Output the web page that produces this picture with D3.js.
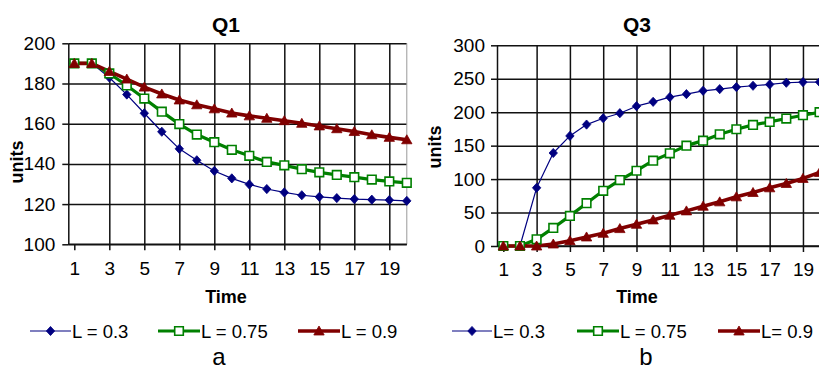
<!DOCTYPE html>
<html>
<head>
<meta charset="utf-8">
<script src="https://cdn.jsdelivr.net/npm/d3@7"></script>
<style>
  html, body { margin: 0; padding: 0; background: #fff; }
  svg { display: block; }
  text { font-family: "Liberation Sans", Arial, sans-serif; fill: #000; }
</style>
</head>
<body>
<svg id="chart" width="819" height="369"></svg>
<script>
// Time steps
const times = d3.range(1, 21);

// Q1 panel series
const q1L03  = [190, 190, 183, 174.5, 165.2, 156, 147.5, 141.8, 136.5, 132.8, 129.8, 127.5, 125.8, 124.4, 123.6, 123, 122.5, 122.2, 122, 121.6];
const q1L075 = [190, 190, 185, 179, 172.5, 166, 159.8, 154.6, 150.8, 147, 144, 141, 139.3, 137.4, 135.8, 134.5, 133.4, 132.2, 131.3, 130.6];
const q1L09  = [190, 190, 186, 182.2, 178.2, 174.8, 171.8, 169.4, 167.4, 165.3, 163.9, 162.7, 161.5, 160.2, 158.9, 157.5, 156.1, 154.5, 153.2, 152];

// Q3 panel series
const q3L03  = [0, 0, 87, 139, 164.5, 181.5, 191, 198.5, 209, 215.5, 222.5, 227, 232, 234.5, 237.5, 239.5, 241.5, 244, 245, 245];
const q3L075 = [0, 0, 10, 27, 45, 64, 82.5, 98.5, 112.5, 127.5, 138.5, 150, 157.5, 167, 174.5, 181, 185.5, 190.5, 195.5, 200];
const q3L09  = [0, 0, 0, 3, 8, 13.5, 19, 26, 32.5, 39, 46, 52.5, 59.5, 66, 73.5, 80, 87, 93.5, 101, 110];

// Axis ticks and labels
const xTickValues = [1, 3, 5, 7, 9, 11, 13, 15, 17, 19];
const q1YTicks = [100, 120, 140, 160, 180, 200];
const q3YTicks = [0, 50, 100, 150, 200, 250, 300];
const seriesNames = ["L = 0.3", "L = 0.75", "L = 0.9"];
const q3SeriesNames = ["L= 0.3", "L = 0.75", "L= 0.9"];

const svg = d3.select("#chart");

const styles = [
  { color: "#000080", width: 1.2, marker: "diamond" },
  { color: "#008000", width: 3.2, marker: "square" },
  { color: "#800000", width: 3.6, marker: "triangle" }
];

function markerPath(kind) {
  if (kind === "diamond") return "M0,-4.6L4.2,0L0,4.6L-4.2,0Z";
  if (kind === "square") return "M-4.3,-4.3H4.3V4.3H-4.3Z";
  return "M0,-5L5.2,4L-5.2,4Z";
}

function drawMarker(g, kind, color, x, y) {
  g.append("path")
    .attr("d", markerPath(kind))
    .attr("transform", `translate(${x},${y})`)
    .attr("fill", kind === "square" ? "#fff" : color)
    .attr("stroke", color)
    .attr("stroke-width", kind === "square" ? 1.6 : 0.8);
}

function panel(opt) {
  const g = svg.append("g");
  const x = d3.scaleLinear().domain(opt.xDomain).range([opt.left, opt.right]);
  const y = d3.scaleLinear().domain(opt.yDomain).range([opt.bottom, opt.top]);

  // horizontal gridlines
  g.append("g")
    .attr("transform", `translate(${opt.left},0)`)
    .call(d3.axisLeft(y).tickValues(opt.yTicks).tickSize(-(opt.right - opt.left)).tickFormat(""))
    .call(a => a.select(".domain").remove())
    .call(a => a.selectAll("line").attr("stroke", "#111").attr("stroke-width", 1.5));

  // vertical gridlines
  g.append("g")
    .attr("transform", `translate(0,${opt.bottom})`)
    .call(d3.axisBottom(x).tickValues(xTickValues.filter(v => v > 1)).tickSize(-(opt.bottom - opt.top)).tickFormat(""))
    .call(a => a.select(".domain").remove())
    .call(a => a.selectAll("line").attr("stroke", "#111").attr("stroke-width", 1.5));

  // right border
  g.append("line")
    .attr("x1", opt.right).attr("x2", opt.right)
    .attr("y1", opt.top).attr("y2", opt.bottom)
    .attr("stroke", "#999").attr("stroke-width", 1);

  // y axis
  g.append("g")
    .attr("transform", `translate(${opt.left},0)`)
    .call(d3.axisLeft(y).tickValues(opt.yTicks).tickSize(6).tickSizeOuter(0).tickPadding(opt.yPad))
    .call(a => a.select(".domain").attr("stroke", "#111").attr("stroke-width", 1.5))
    .call(a => a.selectAll("line").attr("stroke", "#111").attr("stroke-width", 1.5))
    .call(a => a.selectAll("text").attr("font-size", 19).attr("font-family", "Liberation Sans, Arial, sans-serif").attr("fill", "#1a1a1a"));

  // x axis
  g.append("g")
    .attr("transform", `translate(0,${opt.bottom})`)
    .call(d3.axisBottom(x).tickValues(xTickValues).tickSize(6).tickSizeOuter(0).tickPadding(11))
    .call(a => a.select(".domain").attr("stroke", "#111").attr("stroke-width", 1.5)
      .attr("d", `M${opt.left},0H${opt.right}`))
    .call(a => a.selectAll("line").attr("stroke", "#111").attr("stroke-width", 1.5))
    .call(a => a.selectAll("text").attr("font-size", 19).attr("font-family", "Liberation Sans, Arial, sans-serif").attr("fill", "#1a1a1a"));

  // series
  const line = d3.line().x((d, i) => x(times[i])).y(d => y(d));
  opt.series.forEach((vals, k) => {
    const s = styles[k];
    g.append("path")
      .attr("d", line(vals))
      .attr("fill", "none")
      .attr("stroke", s.color)
      .attr("stroke-width", s.width)
      .attr("stroke-linejoin", "round");
  });
  opt.series.forEach((vals, k) => {
    const s = styles[k];
    const mg = g.append("g");
    vals.forEach((v, i) => drawMarker(mg, s.marker, s.color, x(times[i]), y(v)));
  });

  // title
  g.append("text")
    .attr("x", opt.titleX).attr("y", 32)
    .attr("text-anchor", "middle")
    .attr("font-size", 21).attr("font-weight", "bold")
    .text(opt.title);

  // y label
  g.append("text")
    .attr("transform", `translate(${opt.unitsX},${opt.unitsY}) rotate(-90)`)
    .attr("text-anchor", "middle")
    .attr("dy", "0.35em")
    .attr("font-size", 18).attr("font-weight", "bold")
    .text("units");

  // x label
  g.append("text")
    .attr("x", opt.titleX).attr("y", 303)
    .attr("text-anchor", "middle")
    .attr("font-size", 18).attr("font-weight", "bold")
    .text("Time");

  // legend
  opt.legend.forEach((item, k) => {
    const s = styles[k];
    const lg = g.append("g");
    lg.append("line")
      .attr("x1", item.x1).attr("x2", item.x2)
      .attr("y1", 331).attr("y2", 331)
      .attr("stroke", s.color).attr("stroke-width", s.width);
    drawMarker(lg, s.marker, s.color, (item.x1 + item.x2) / 2, 331);
    lg.append("text")
      .attr("x", item.x2 + 1).attr("y", 337.5)
      .attr("font-size", 18.5).attr("fill", "#1a1a1a")
      .text(opt.names[k]);
  });

  // caption
  g.append("text")
    .attr("x", opt.captionX).attr("y", 365)
    .attr("text-anchor", "middle")
    .attr("font-family", "Liberation Serif, Times New Roman, serif")
    .attr("font-size", 24)
    .text(opt.caption);
}

panel({
  left: 68.3, right: 406.8, top: 43.3, bottom: 244.3,
  xDomain: [0.657, 20], yDomain: [100, 200], yTicks: q1YTicks, yPad: 7,
  series: [q1L03, q1L075, q1L09],
  title: "Q1", titleX: 226, unitsX: 17, unitsY: 162,
  names: seriesNames,
  legend: [{ x1: 30, x2: 71 }, { x1: 158, x2: 200 }, { x1: 298, x2: 340 }],
  caption: "a", captionX: 219
});

panel({
  left: 497, right: 819.6, top: 45.3, bottom: 246,
  xDomain: [0.62, 20], yDomain: [0, 300], yTicks: q3YTicks, yPad: 6,
  series: [q3L03, q3L075, q3L09],
  title: "Q3", titleX: 637, unitsX: 435, unitsY: 147,
  names: q3SeriesNames,
  legend: [{ x1: 452, x2: 492 }, { x1: 577, x2: 619 }, { x1: 718, x2: 760 }],
  caption: "b", captionX: 646
});
</script>
</body>
</html>
